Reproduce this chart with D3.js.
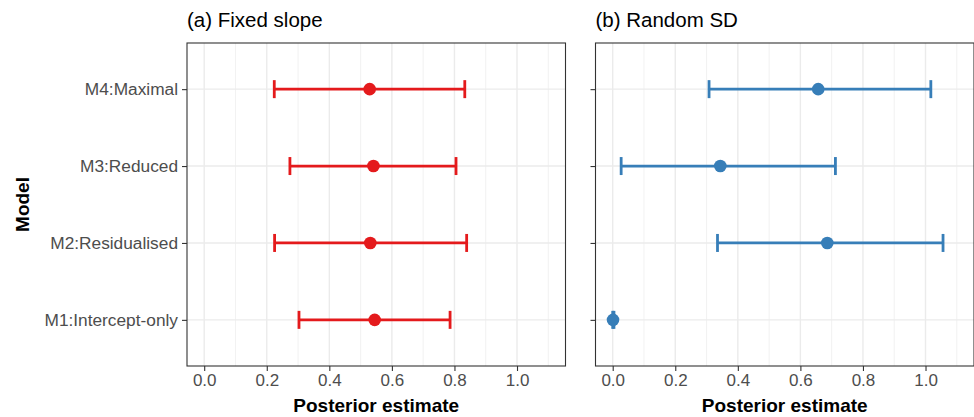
<!DOCTYPE html>
<html>
<head>
<meta charset="utf-8">
<script src="https://cdn.jsdelivr.net/npm/d3@7"></script>
<style>
  body { margin: 0; background: #fff; }
  text { font-family: "Liberation Sans", Arial, Helvetica, sans-serif; }
</style>
</head>
<body>
<svg width="974" height="417"></svg>
<script>
// 数据
const models = ["M1:Intercept-only", "M2:Residualised", "M3:Reduced", "M4:Maximal"];

// (a) Fixed slope
const fixedEst = [0.545, 0.531, 0.541, 0.529];
const fixedLo  = [0.303, 0.225, 0.274, 0.224];
const fixedHi  = [0.786, 0.839, 0.805, 0.833];

// (b) Random SD
const randomEst = [0.001, 0.686, 0.344, 0.657];
const randomLo  = [0.000, 0.335, 0.027, 0.308];
const randomHi  = [0.004, 1.056, 0.712, 1.017];

const xTicks = [0, 0.2, 0.4, 0.6, 0.8, 1.0];
const xMinor = [0.1, 0.3, 0.5, 0.7, 0.9, 1.1];

const panelTitles = ["(a) Fixed slope", "(b) Random SD"];
const panelColors = ["#E41A1C", "#377EB8"];

let svg = d3.select("svg");

const TOP = 43, BOTTOM = 366;
const panelLefts = [187, 595.5];
const PANEL_W = 378.5;

var y = d3.scalePoint()
  .domain(models.slice().reverse())
  .range([TOP, BOTTOM])
  .padding(0.6);

const panels = [
  { est: fixedEst, lo: fixedLo, hi: fixedHi },
  { est: randomEst, lo: randomLo, hi: randomHi }
];

panels.forEach((p, i) => {
  const left = panelLefts[i];
  var x = d3.scaleLinear()
    .domain([-0.055, 1.155])
    .range([left, left + PANEL_W]);

  let g = svg.append("g");

  // 网格 次要
  g.selectAll(".minor").data(xMinor).enter().append("line")
    .attr("x1", d => x(d)).attr("x2", d => x(d))
    .attr("y1", TOP).attr("y2", BOTTOM)
    .attr("stroke", "#EBEBEB").attr("stroke-width", 0.7);

  // 网格 主要
  g.selectAll(".major").data(xTicks).enter().append("line")
    .attr("x1", d => x(d)).attr("x2", d => x(d))
    .attr("y1", TOP).attr("y2", BOTTOM)
    .attr("stroke", "#EBEBEB").attr("stroke-width", 1.4);

  g.selectAll(".hgrid").data(models).enter().append("line")
    .attr("x1", left).attr("x2", left + PANEL_W)
    .attr("y1", d => y(d)).attr("y2", d => y(d))
    .attr("stroke", "#EBEBEB").attr("stroke-width", 1.4);

  // 误差线
  const color = panelColors[i];
  const rows = models.map((m, k) => ({ m: m, est: p.est[k], lo: p.lo[k], hi: p.hi[k] }));

  g.selectAll(".bar").data(rows).enter().append("line")
    .attr("x1", d => x(d.lo)).attr("x2", d => x(d.hi))
    .attr("y1", d => y(d.m)).attr("y2", d => y(d.m))
    .attr("stroke", color).attr("stroke-width", 2.8);

  ["lo", "hi"].forEach(key => {
    g.selectAll(".cap-" + key).data(rows).enter().append("line")
      .attr("x1", d => x(d[key])).attr("x2", d => x(d[key]))
      .attr("y1", d => y(d.m) - 9).attr("y2", d => y(d.m) + 9)
      .attr("stroke", color).attr("stroke-width", 2.8);
  });

  g.selectAll(".pt").data(rows).enter().append("circle")
    .attr("cx", d => x(d.est)).attr("cy", d => y(d.m))
    .attr("r", 6.3)
    .attr("fill", color);

  // 边框
  g.append("rect")
    .attr("x", left).attr("y", TOP)
    .attr("width", PANEL_W).attr("height", BOTTOM - TOP)
    .attr("fill", "none").attr("stroke", "#333333").attr("stroke-width", 1.1);

  // x 轴
  var xAxis = d3.axisBottom(x).tickValues(xTicks).tickFormat(d3.format(".1f")).tickSize(5).tickPadding(3);
  let ax = g.append("g").attr("transform", "translate(0," + BOTTOM + ")").call(xAxis);
  ax.select(".domain").remove();
  ax.selectAll(".tick line").attr("stroke", "#333333").attr("stroke-width", 1.1);
  ax.selectAll(".tick text")
    .attr("fill", "#4D4D4D")
    .style("font-size", "17px")
    .attr("font-family", null);

  // y 轴
  var yAxis = d3.axisLeft(y).tickSize(5).tickPadding(4);
  let ay = g.append("g").attr("transform", "translate(" + left + ",0)").call(yAxis);
  ay.select(".domain").remove();
  ay.selectAll(".tick line").attr("stroke", "#333333").attr("stroke-width", 1.1);
  ay.selectAll(".tick text")
    .attr("fill", "#4D4D4D")
    .style("font-size", "17.3px")
    .attr("font-family", null);
  if (i === 1) ay.selectAll(".tick text").remove();

  // 标题
  g.append("text")
    .attr("x", left)
    .attr("y", 27)
    .style("font-size", "20.5px")
    .attr("fill", "#000")
    .text(panelTitles[i]);

  g.append("text")
    .attr("x", left + PANEL_W / 2)
    .attr("y", 411.5)
    .attr("text-anchor", "middle")
    .style("font-size", "19px")
    .style("font-weight", "bold")
    .text("Posterior estimate");
});

svg.append("text")
  .attr("transform", "translate(29," + (TOP + BOTTOM) / 2 + ") rotate(-90)")
  .attr("text-anchor", "middle")
  .style("font-size", "19px")
  .style("font-weight", "bold")
  .text("Model");
</script>
</body>
</html>
